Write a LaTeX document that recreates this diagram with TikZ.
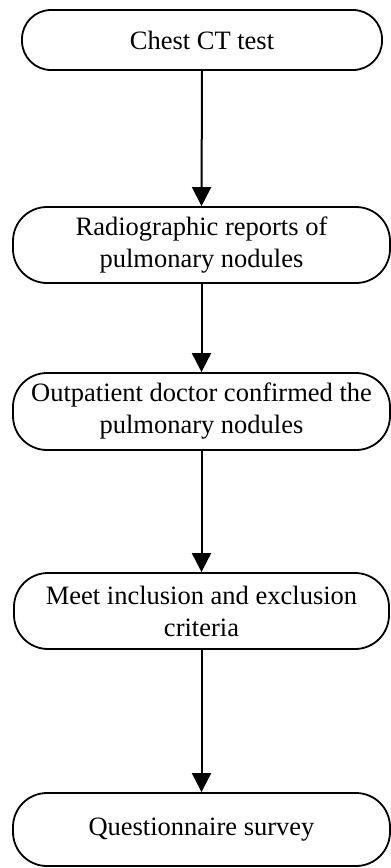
\documentclass[tikz,border=0pt]{standalone}
\usepackage{fontspec}
\setmainfont{Liberation Serif}
\usetikzlibrary{arrows.meta}
\begin{document}
\begin{tikzpicture}[x=1pt,y=-1pt,
  box/.style={draw, line width=1.8pt, rounded corners=34pt, align=center,
    inner sep=0pt, font=\fontsize{26.5}{32}\selectfont},
  arr/.style={line width=2pt, -{Triangle[length=19pt,width=19pt]}}]
\useasboundingbox (0,0) rectangle (391,868);
\node[box, minimum width=360pt, minimum height=60pt, rounded corners=29pt] (n1) at (202,40) {Chest CT test};
\node[box, minimum width=377pt, minimum height=76pt] (n2) at (201.5,245) {Radiographic reports of\\pulmonary nodules};
\node[box, minimum width=377pt, minimum height=77pt] (n3) at (201.5,411.5) {Outpatient doctor confirmed the\\pulmonary nodules};
\node[box, minimum width=375pt, minimum height=76pt] (n4) at (201.5,611) {Meet inclusion and exclusion\\criteria};
\node[box, minimum width=377pt, minimum height=73pt] (n5) at (201.5,829.5) {Questionnaire survey};
\draw[arr] (n1.south) -- (n2.north);
\draw[arr] (n2.south) -- (n3.north);
\draw[arr] (n3.south) -- (n4.north);
\draw[arr] (n4.south) -- (n5.north);
\end{tikzpicture}
\end{document}
